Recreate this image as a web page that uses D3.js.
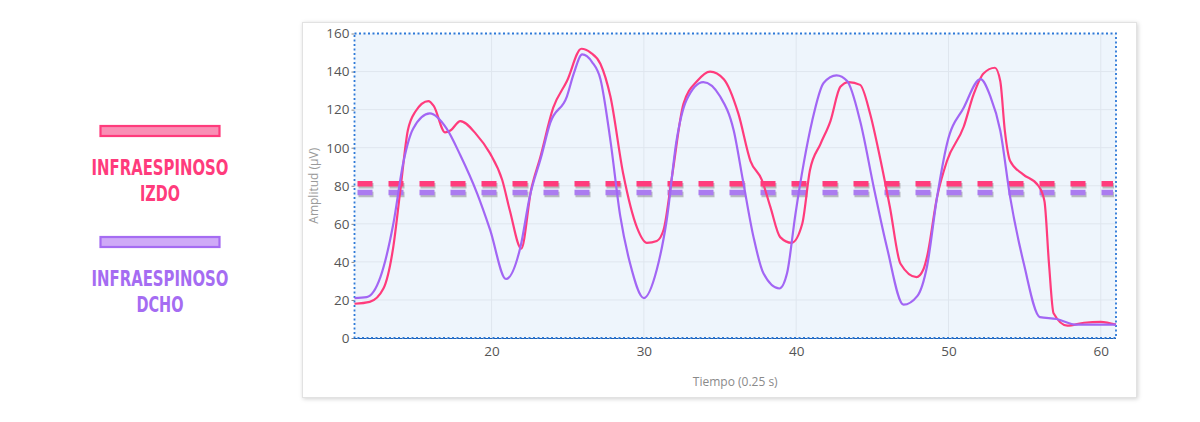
<!DOCTYPE html>
<html>
<head>
<meta charset="utf-8">
<script src="https://cdn.jsdelivr.net/npm/d3@7"></script>
<style>
  html, body { margin: 0; padding: 0; background: #fff; }
  svg { display: block; }
</style>
</head>
<body>
<div id="chart"></div>
<script>
// Tiempo (0.25 s) y amplitud (µV)
const tiempoIzdo = [11, 12, 12.9, 13.55, 14, 14.5, 15, 15.85, 16.2, 16.95, 17.3, 17.95, 19, 19.9, 20.7, 21.2, 21.95,
  22.6, 23.2, 24.05, 24.95, 25.9, 26.5, 27.15, 27.8, 28.65, 29.55, 30.2, 30.85, 31.3, 31.85, 32.6, 33.5, 34.35,
  35.25, 36.2, 37, 37.75, 38.3, 38.95, 39.7, 40.4, 40.9, 41.6, 42.25, 42.9, 43.45, 44.2, 44.85, 45.5, 46.15,
  46.85, 47.9, 48.35, 48.6, 49.25, 49.9, 51, 51.65, 52.3, 53.05, 53.4, 53.7, 54.05, 54.9, 55.9, 56.3, 56.6,
  56.9, 57.8, 58.9, 60, 61];
const amplitudIzdo = [18, 19, 26, 48, 77, 109, 119, 124.5, 122, 108, 109, 114, 107, 97, 83, 67, 47,
  78, 95, 121, 135, 152, 150, 144, 127, 86, 58, 50, 51, 57, 85, 123, 135, 140,
  136, 118, 93, 83, 69, 53, 50, 60, 88, 102, 114, 132, 134.5, 133, 118, 95, 69,
  39, 32, 36, 43, 74, 93, 111, 128, 139, 142, 135, 109, 93, 86, 80, 72, 39,
  13, 6.5, 8, 8.5, 7];

const tiempoDcho = [11, 11.8, 12.7, 13.55, 14.2, 14.85, 15.95, 17.05, 17.95, 19.05, 19.9, 20.95, 21.9, 22.5,
  23.25, 23.85, 24.95, 25.4, 25.95, 26.6, 27.15, 27.8, 28.45, 29.1, 30, 30.85, 31.5, 32.15, 32.8, 33.9, 35,
  35.9, 36.5, 37.2, 37.85, 38.9, 39.4, 39.95, 40.5, 41.05, 41.8, 42.65, 43.35, 44.2, 45.1, 45.95, 47.05,
  47.95, 48.6, 49.25, 49.9, 51, 52.1, 52.75, 53.4, 54.05, 54.95, 56, 57.1, 58.4, 61];
const amplitudDcho = [21, 21.5, 32, 60, 92, 110, 118, 110, 96, 76, 57, 31, 48, 74,
  95, 113, 127, 139, 149, 145, 136, 104, 64, 39, 21, 36, 62, 104, 125, 134.5, 127,
  109, 83, 53, 34, 26, 34, 65, 92, 114, 134, 138, 135, 114, 79, 48, 17.5,
  22, 38, 74, 102, 121, 136, 127, 109, 74, 39, 11, 10, 7, 7];

const umbralIzdo = 81;
const umbralDcho = 76.5;

const yTicks = [0, 20, 40, 60, 80, 100, 120, 140, 160];
const xTicks = [20, 30, 40, 50, 60];

const colorIzdo = '#ff3b7c';
const colorDcho = '#a266f4';

const width = 1200, height = 422;
const plot = { left: 354.5, right: 1116, top: 33.5, bottom: 338 };

const svg = d3.select('#chart')
  .append('svg')
  .attr('width', width)
  .attr('height', height);

const defs = svg.append('defs');
const shadow = defs.append('filter').attr('id', 'cardShadow')
  .attr('x', '-5%').attr('y', '-5%').attr('width', '110%').attr('height', '115%');
shadow.append('feDropShadow')
  .attr('dx', 1).attr('dy', 1).attr('stdDeviation', 2)
  .attr('flood-color', '#000').attr('flood-opacity', 0.18);

// tarjeta
svg.append('rect')
  .attr('x', 302.5).attr('y', 22.5)
  .attr('width', 834).attr('height', 375)
  .attr('fill', '#fff')
  .attr('stroke', '#e2e2e2')
  .attr('filter', 'url(#cardShadow)');

const x = d3.scaleLinear().domain([11, 61]).range([plot.left, plot.right]);
const y = d3.scaleLinear().domain([0, 160]).range([plot.bottom, plot.top]);

// fondo del area de trazado
svg.append('rect')
  .attr('x', plot.left).attr('y', plot.top)
  .attr('width', plot.right - plot.left).attr('height', plot.bottom - plot.top)
  .attr('fill', '#eef5fc');

// rejilla
svg.append('g')
  .selectAll('line.gy')
  .data(yTicks.slice(1, -1))
  .join('line')
    .attr('x1', plot.left).attr('x2', plot.right)
    .attr('y1', d => y(d)).attr('y2', d => y(d))
    .attr('stroke', '#dfe6ee').attr('stroke-width', 1);

svg.append('g')
  .selectAll('line.gx')
  .data(xTicks)
  .join('line')
    .attr('x1', d => x(d)).attr('x2', d => x(d))
    .attr('y1', plot.top).attr('y2', plot.bottom)
    .attr('stroke', '#dfe6ee').attr('stroke-width', 1);

// ejes
const yAxis = svg.append('g')
  .attr('transform', `translate(${plot.left},0)`)
  .call(d3.axisLeft(y).tickValues(yTicks).tickSize(3).tickPadding(2));
const xAxis = svg.append('g')
  .attr('transform', `translate(0,${plot.bottom})`)
  .call(d3.axisBottom(x).tickValues(xTicks).tickSize(0).tickPadding(8));

[yAxis, xAxis].forEach(a => {
  a.select('.domain').remove();
  a.selectAll('line').attr('stroke', '#888');
  a.selectAll('text')
    .attr('fill', '#555')
    .style('font-family', '"Open Sans", "DejaVu Sans", sans-serif')
    .style('font-size', '13.5px');
});

// borde punteado
svg.append('rect')
  .attr('x', plot.left).attr('y', plot.top)
  .attr('width', plot.right - plot.left).attr('height', plot.bottom - plot.top)
  .attr('fill', 'none')
  .attr('stroke', '#2d79d8')
  .attr('stroke-width', 1.8)
  .attr('stroke-dasharray', '2,2.5');

svg.append('line')
  .attr('x1', plot.left).attr('x2', plot.right)
  .attr('y1', plot.bottom + 0.5).attr('y2', plot.bottom + 0.5)
  .attr('stroke', '#1c5fb0').attr('stroke-width', 1.2)
  .attr('stroke-dasharray', '3,1.5');

// titulos de ejes
svg.append('text')
  .attr('transform', `translate(318,${(plot.top + plot.bottom) / 2}) rotate(-90)`)
  .attr('text-anchor', 'middle')
  .attr('fill', '#9a9a9a')
  .style('font-family', '"Open Sans", "DejaVu Sans", sans-serif')
  .style('font-size', '12px')
  .text('Amplitud (µV)');

svg.append('text')
  .attr('x', (plot.left + plot.right) / 2)
  .attr('y', 386)
  .attr('text-anchor', 'middle')
  .attr('fill', '#8a8a8a')
  .style('font-family', '"Open Sans", "DejaVu Sans", sans-serif')
  .style('font-size', '12px')
  .text('Tiempo (0.25 s)');

// lineas de umbral discontinuas con sombra
const umbrales = [
  { valor: umbralIzdo, color: colorIzdo },
  { valor: umbralDcho, color: '#ab7cf0' }
];

const umbralG = svg.append('g');
umbralG.selectAll('line.sombra')
  .data(umbrales)
  .join('line')
    .attr('x1', x(11) + 3).attr('x2', x(61) - 3)
    .attr('y1', d => y(d.valor) + 2).attr('y2', d => y(d.valor) + 2)
    .attr('stroke', '#8c8c8c').attr('stroke-opacity', 0.55)
    .attr('stroke-width', 5.5)
    .attr('stroke-dasharray', '15,16')
    .attr('transform', 'translate(1,0)');
umbralG.selectAll('line.umbral')
  .data(umbrales)
  .join('line')
    .attr('x1', x(11) + 3).attr('x2', x(61) - 3)
    .attr('y1', d => y(d.valor)).attr('y2', d => y(d.valor))
    .attr('stroke', d => d.color)
    .attr('stroke-width', 5.5)
    .attr('stroke-dasharray', '15,16');

// curvas
const line = d3.line()
  .x(d => x(d[0]))
  .y(d => y(d[1]))
  .curve(d3.curveMonotoneX);

const series = [
  { datos: d3.zip(tiempoIzdo, amplitudIzdo), color: colorIzdo },
  { datos: d3.zip(tiempoDcho, amplitudDcho), color: colorDcho }
];

svg.append('g')
  .selectAll('path')
  .data(series)
  .join('path')
    .attr('d', d => line(d.datos))
    .attr('fill', 'none')
    .attr('stroke', d => d.color)
    .attr('stroke-width', 2.2)
    .attr('stroke-linejoin', 'round');

// leyenda
const leyenda = [
  { lineas: ['INFRAESPINOSO', 'IZDO'], y: 126, color: colorIzdo, relleno: '#f98fb5', anchos: [137, 40] },
  { lineas: ['INFRAESPINOSO', 'DCHO'], y: 237, color: '#a56cf2', relleno: '#cfaaf7', anchos: [137, 47] }
];

const lg = svg.append('g')
  .selectAll('g')
  .data(leyenda)
  .join('g');

lg.append('rect')
  .attr('x', 100.5).attr('y', d => d.y)
  .attr('width', 119).attr('height', 10)
  .attr('fill', d => d.relleno)
  .attr('stroke', d => d.color)
  .attr('stroke-width', 2.2);

lg.each(function(d) {
  const g = d3.select(this);
  d.lineas.forEach((t, i) => {
    g.append('text')
      .attr('x', 160)
      .attr('y', d.y + 49 + i * 26)
      .attr('text-anchor', 'middle')
      .attr('fill', d.color)
      .attr('textLength', d.anchos[i])
      .attr('lengthAdjust', 'spacingAndGlyphs')
      .style('font-family', '"DejaVu Sans Condensed", "Liberation Sans Narrow", sans-serif')
      .style('font-weight', 'bold')
      .style('font-size', '22px')
      .text(t);
  });
});
</script>
</body>
</html>
